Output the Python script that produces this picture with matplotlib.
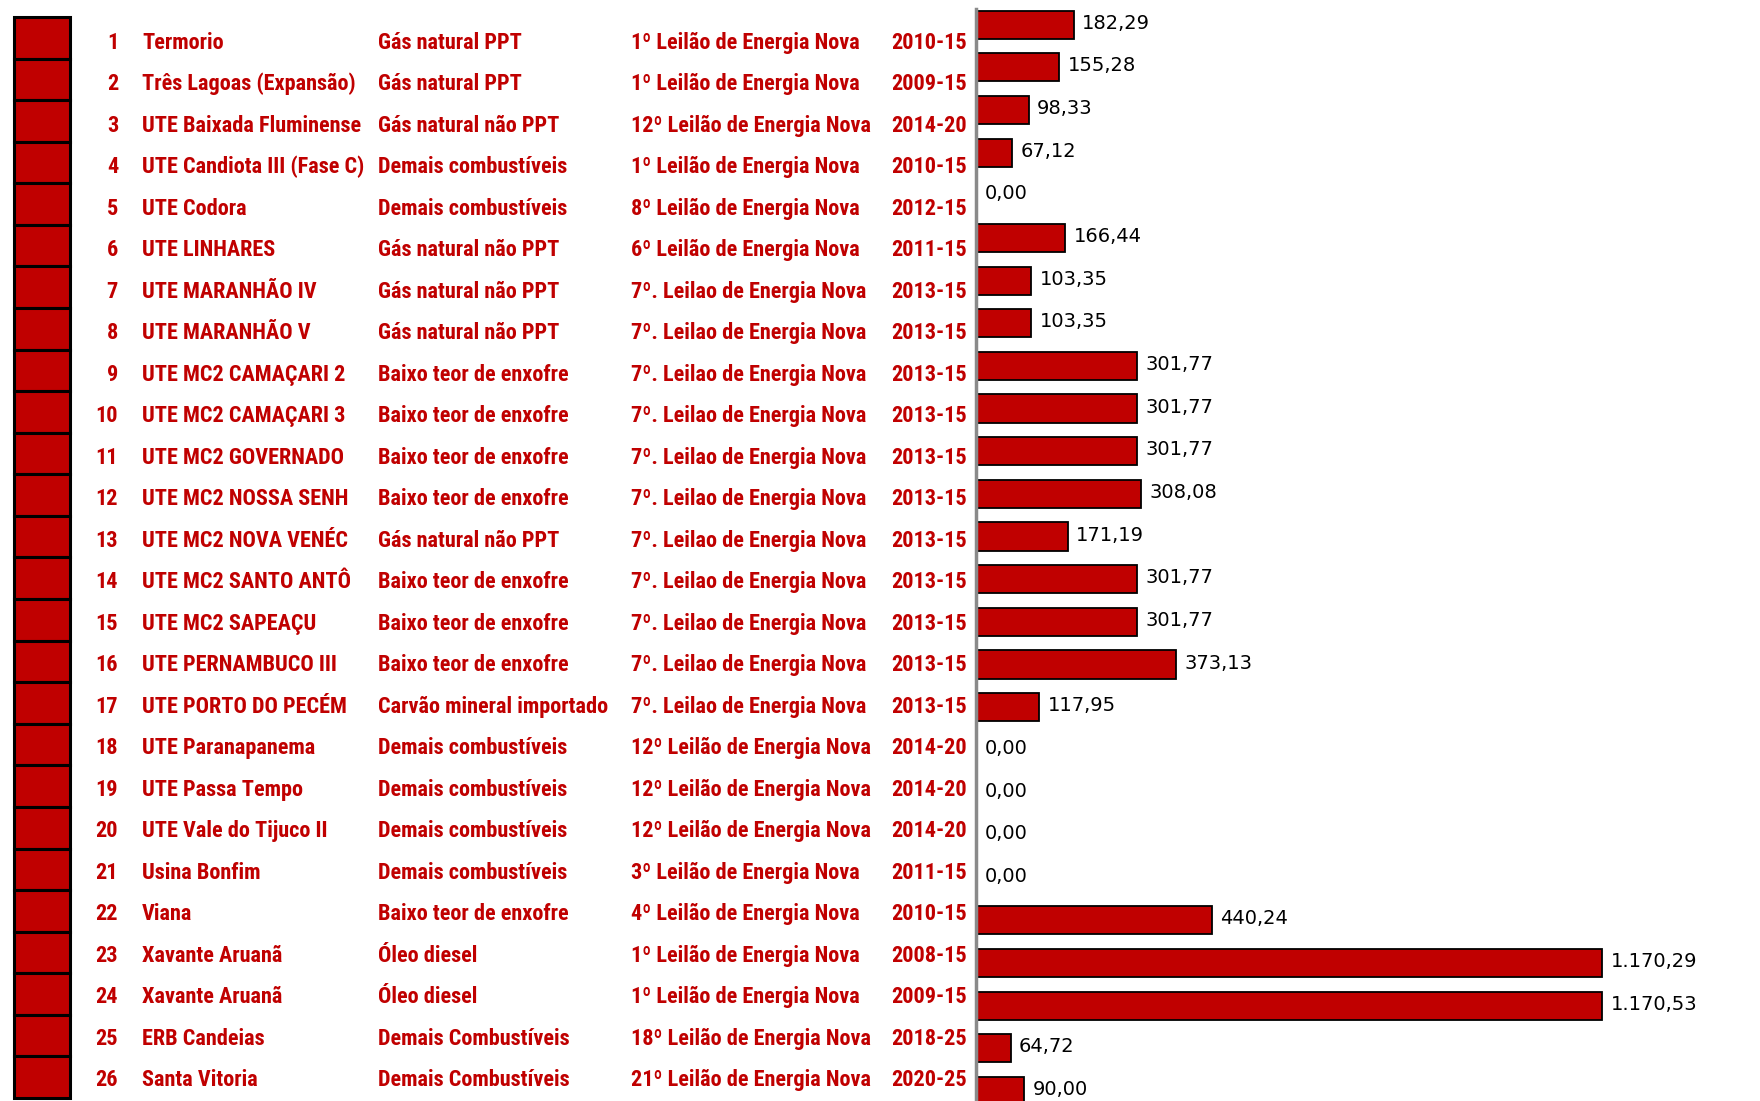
import numpy as np
import matplotlib.pyplot as plt
from matplotlib import font_manager

nums = list(range(1, 27))
# names as far as they are visible in the source table
usinas = ['Termorio', 'Três Lagoas (Expansão)', 'UTE Baixada Fluminense',
          'UTE Candiota III (Fase C)', 'UTE Codora', 'UTE LINHARES',
          'UTE MARANHÃO IV', 'UTE MARANHÃO V', 'UTE MC2 CAMAÇARI 2',
          'UTE MC2 CAMAÇARI 3', 'UTE MC2 GOVERNADO',
          'UTE MC2 NOSSA SENH', 'UTE MC2 NOVA VENÉC',
          'UTE MC2 SANTO ANTÔ', 'UTE MC2 SAPEAÇU',
          'UTE PERNAMBUCO III', 'UTE PORTO DO PECÉM', 'UTE Paranapanema',
          'UTE Passa Tempo', 'UTE Vale do Tijuco II', 'Usina Bonfim', 'Viana',
          'Xavante Aruanã', 'Xavante Aruanã', 'ERB Candeias', 'Santa Vitoria']
combustiveis = ['Gás natural PPT', 'Gás natural PPT', 'Gás natural não PPT',
                'Demais combustíveis', 'Demais combustíveis', 'Gás natural não PPT',
                'Gás natural não PPT', 'Gás natural não PPT',
                'Baixo teor de enxofre', 'Baixo teor de enxofre',
                'Baixo teor de enxofre', 'Baixo teor de enxofre',
                'Gás natural não PPT', 'Baixo teor de enxofre',
                'Baixo teor de enxofre', 'Baixo teor de enxofre',
                'Carvão mineral importado', 'Demais combustíveis',
                'Demais combustíveis', 'Demais combustíveis', 'Demais combustíveis',
                'Baixo teor de enxofre', 'Óleo diesel', 'Óleo diesel',
                'Demais Combustíveis', 'Demais Combustíveis']
leiloes = ['1º Leilão de Energia Nova', '1º Leilão de Energia Nova',
           '12º Leilão de Energia Nova', '1º Leilão de Energia Nova',
           '8º Leilão de Energia Nova', '6º Leilão de Energia Nova'] + \
          ['7º. Leilao de Energia Nova'] * 11 + \
          ['12º Leilão de Energia Nova'] * 3 + \
          ['3º Leilão de Energia Nova', '4º Leilão de Energia Nova',
           '1º Leilão de Energia Nova', '1º Leilão de Energia Nova',
           '18º Leilão de Energia Nova', '21º Leilão de Energia Nova']
periodos = ['2010-15', '2009-15', '2014-20', '2010-15', '2012-15', '2011-15'] + \
           ['2013-15'] * 11 + ['2014-20'] * 3 + \
           ['2011-15', '2010-15', '2008-15', '2009-15', '2018-25', '2020-25']
valores = [182.29, 155.28, 98.33, 67.12, 0.00, 166.44, 103.35, 103.35, 301.77,
           301.77, 301.77, 308.08, 171.19, 301.77, 301.77, 373.13, 117.95,
           0.00, 0.00, 0.00, 0.00, 440.24, 1170.29, 1170.53, 64.72, 90.00]

W, H = 1760, 1101
RED = '#c00000'

# narrowest bold face available
installed = {f.name for f in font_manager.fontManager.ttflist}
fam = 'DejaVu Sans'
for cand in ['Liberation Sans Narrow', 'Roboto Condensed', 'Open Sans Condensed',
             'Noto Sans Condensed', 'DejaVu Sans Condensed']:
    if cand in installed:
        fam = cand
        break


def px_axes(x0, y0, x1, y1):
    # axes from pixel box (top-left origin)
    ax = fig.add_axes([x0 / W, 1 - y1 / H, (x1 - x0) / W, (y1 - y0) / H])
    ax.set_axis_off()
    return ax


def fmt_br(v):
    s = f'{v:,.2f}'
    return s.replace(',', 'X').replace('.', ',').replace('X', '.')


fig = plt.figure(figsize=(W / 100, H / 100), dpi=100)
fig.patch.set_facecolor('white')
renderer = fig.canvas.get_renderer()


def text_w(s, size):
    t = fig.text(0, 0, s, family=[fam, 'DejaVu Sans'], weight='bold',
                 stretch='condensed', fontsize=size)
    w = t.get_window_extent(renderer).width
    t.remove()
    return w


# fit font size to the column widths of the reference
fs = min(10 * 233 / text_w('Carvão mineral importado', 10),
         10 * 241 / text_w('12º Leilão de Energia Nova', 10))

rows = np.array(nums)

# swatches on the left
ax_sw = px_axes(14, 17, 70, 1098)
ax_sw.barh(rows, [1] * len(rows), height=1.0, color=RED, edgecolor='black',
           linewidth=2.2, clip_on=False)
ax_sw.set_xlim(0, 1)
ax_sw.set_ylim(26.5, 0.5)

# text rows: center of row i at 42.6 + (i-1)*41.5 px
step = 41.5
y0 = 42.6
y_top = 1 - y0 / step
y_bot = 1 + (H - y0) / step

tfont = dict(family=[fam, 'DejaVu Sans'], weight='bold', stretch='condensed',
             fontsize=fs, color=RED, va='center')

ax_txt = px_axes(0, 0, 976, H)
ax_txt.set_xlim(0, 976)
ax_txt.set_ylim(y_bot, y_top)
for i, r in enumerate(rows):
    ax_txt.text(118, r, str(nums[i]), ha='right', **tfont)
    ax_txt.text(378, r, combustiveis[i], ha='left', **tfont)
    ax_txt.text(631, r, leiloes[i], ha='left', **tfont)
    ax_txt.text(891, r, periodos[i], ha='left', **tfont)

# names column is clipped at the fuel column
ax_nm = px_axes(142, 0, 374, H)
ax_nm.set_xlim(142, 374)
ax_nm.set_ylim(y_bot, y_top)
for i, r in enumerate(rows):
    ax_nm.text(142, r, usinas[i], ha='left', clip_on=True, **tfont)

# bars
bstep = 42.65
ax = fig.add_axes([976 / W, 0, 1 - 976 / W, 1 - 9 / H])
ax.barh(rows, valores, height=0.66, color=RED, edgecolor='black', linewidth=1.3)
ax.set_xlim(0, 1465)
ax.set_ylim(1 + (H - 24.7) / bstep, 1 + (9 - 24.7) / bstep)
for r, v in zip(rows, valores):
    ax.annotate(fmt_br(v), (v, r), xytext=(6, 1), textcoords='offset points',
                ha='left', va='center', fontsize=14, color='black',
                annotation_clip=False)
for s in ['top', 'right', 'bottom']:
    ax.spines[s].set_visible(False)
ax.spines['left'].set_color('#8a8a8a')
ax.spines['left'].set_linewidth(2.5)
ax.set_xticks([])
ax.set_yticks([])

fig.savefig('out.png', dpi=100, facecolor='white')
